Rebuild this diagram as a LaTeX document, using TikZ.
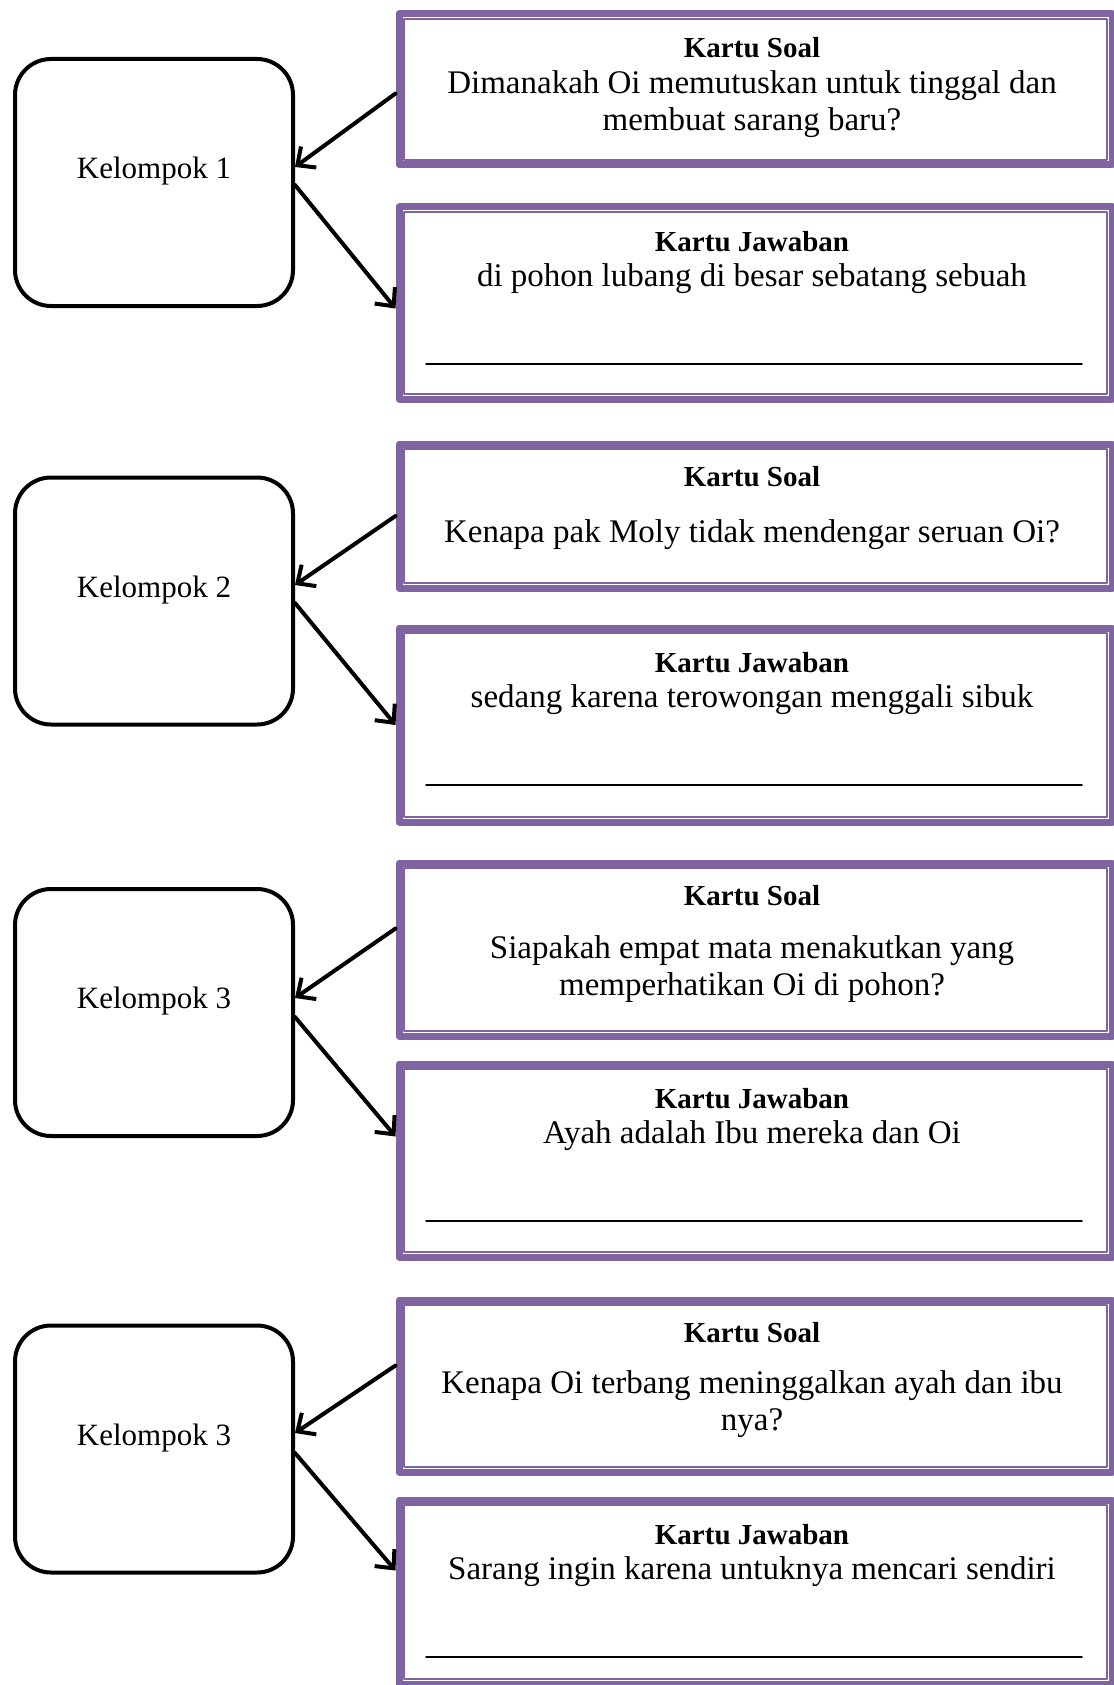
\documentclass[tikz,border=0pt]{standalone}
\usepackage{fontspec}
\setmainfont{Liberation Serif}
\usepackage{tikz}
\usetikzlibrary{arrows.meta}
\definecolor{ungu}{HTML}{8064A2}
\tikzset{
  kartu/.style={draw=ungu,line width=3.5pt,minimum width=356.5pt,inner sep=0pt,anchor=north west},
  dalam/.style={draw=ungu,line width=1.2pt},
  kelompok/.style={draw,line width=2pt,rounded corners=18pt,minimum width=139pt,minimum height=123.5pt,
    font=\fontsize{15.5}{18}\selectfont,text height=11pt,text depth=15pt},
  judul/.style={font=\bfseries\fontsize{14.5}{17}\selectfont,inner sep=0pt,anchor=base},
  isi/.style={font=\fontsize{16.5}{18.5}\selectfont,align=center,inner sep=0pt,anchor=north},
  panah/.style={->,line width=2pt}
}
\begin{document}
\begin{tikzpicture}[line cap=round,line join=round,>={Straight Barb[length=7pt,width=13pt]},x=0.5pt,y=-0.5pt]
\useasboundingbox (0,0) rectangle (1113,1685);
% kartu soal dan kartu jawaban
\node[kartu,minimum height=75.5pt] (s1) at (395.5,10.5) {};
\node[kartu,minimum height=96pt] (j1) at (395.5,203.5) {};
\node[kartu,minimum height=72pt] (s2) at (395.5,440.5) {};
\node[kartu,minimum height=97pt] (j2) at (395.5,624.5) {};
\node[kartu,minimum height=86.5pt] (s3) at (395.5,859.5) {};
\node[kartu,minimum height=96.5pt] (j3) at (395.5,1060.5) {};
\node[kartu,minimum height=86pt] (s4) at (395.5,1296.5) {};
\node[kartu,minimum height=92pt] (j4) at (395.5,1496.5) {};
\draw[dalam] ([shift={(4.25pt,-4.25pt)}]s1.north west) rectangle ([shift={(-4.25pt,4.25pt)}]s1.south east);
\draw[dalam] ([shift={(4.25pt,-4.25pt)}]j1.north west) rectangle ([shift={(-4.25pt,4.25pt)}]j1.south east);
\draw[dalam] ([shift={(4.25pt,-4.25pt)}]s2.north west) rectangle ([shift={(-4.25pt,4.25pt)}]s2.south east);
\draw[dalam] ([shift={(4.25pt,-4.25pt)}]j2.north west) rectangle ([shift={(-4.25pt,4.25pt)}]j2.south east);
\draw[dalam] ([shift={(4.25pt,-4.25pt)}]s3.north west) rectangle ([shift={(-4.25pt,4.25pt)}]s3.south east);
\draw[dalam] ([shift={(4.25pt,-4.25pt)}]j3.north west) rectangle ([shift={(-4.25pt,4.25pt)}]j3.south east);
\draw[dalam] ([shift={(4.25pt,-4.25pt)}]s4.north west) rectangle ([shift={(-4.25pt,4.25pt)}]s4.south east);
\draw[dalam] ([shift={(4.25pt,-4.25pt)}]j4.north west) rectangle ([shift={(-4.25pt,4.25pt)}]j4.south east);
% isi kartu
\node[judul] (s1a) at (752,58) {Kartu Soal};
\node[isi] (s1b) at (752,70.5) {Dimanakah Oi memutuskan untuk tinggal dan\\membuat sarang baru?};
\node[judul] (j1a) at (752,251) {Kartu Jawaban};
\node[isi] (j1b) at (752,263.5) {di pohon lubang di besar sebatang sebuah};
\draw[line width=0.75pt] (426,364) -- (1082,364);
\node[judul] (s2a) at (752,486) {Kartu Soal};
\node[isi] (s2b) at (752,519.5) {Kenapa pak Moly tidak mendengar seruan Oi?};
\node[judul] (j2a) at (752,672) {Kartu Jawaban};
\node[isi] (j2b) at (752,684.5) {sedang karena terowongan menggali sibuk};
\draw[line width=0.75pt] (426,785) -- (1082,785);
\node[judul] (s3a) at (752,905) {Kartu Soal};
\node[isi] (s3b) at (752,935.5) {Siapakah empat mata menakutkan yang\\memperhatikan Oi di pohon?};
\node[judul] (j3a) at (752,1108) {Kartu Jawaban};
\node[isi] (j3b) at (752,1120.5) {Ayah adalah Ibu mereka dan Oi};
\draw[line width=0.75pt] (426,1221) -- (1082,1221);
\node[judul] (s4a) at (752,1342) {Kartu Soal};
\node[isi] (s4b) at (752,1370.5) {Kenapa Oi terbang meninggalkan ayah dan ibu\\nya?};
\node[judul] (j4a) at (752,1544) {Kartu Jawaban};
\node[isi] (j4b) at (752,1556.5) {Sarang ingin karena untuknya mencari sendiri};
\draw[line width=0.75pt] (426,1657) -- (1082,1657);
% kelompok
\node[kelompok] (k1) at (154,182.5) {Kelompok 1};
\node[kelompok] (k2) at (154,601) {Kelompok 2};
\node[kelompok] (k3) at (154,1012.5) {Kelompok 3};
\node[kelompok] (k4) at (154,1449) {Kelompok 3};
% panah
\draw[panah] ([yshift=-2pt]s1.west) -- ([yshift=7.75pt]k1.east);
\draw[panah] ([yshift=-1.25pt]k1.east) -- ([yshift=-2.75pt]j1.west);
\draw[panah] (s2.west) -- ([yshift=8pt]k2.east);
\draw[panah] ([yshift=-1pt]k2.east) -- (j2.west);
\draw[panah] ([yshift=10.5pt]s3.west) -- ([yshift=7.25pt]k3.east);
\draw[panah] ([yshift=-2.25pt]k3.east) -- ([yshift=12pt]j3.west);
\draw[panah] ([yshift=10.25pt]s4.west) -- ([yshift=8pt]k4.east);
\draw[panah] ([yshift=-2pt]k4.east) -- ([yshift=10.75pt]j4.west);
\end{tikzpicture}
\end{document}
